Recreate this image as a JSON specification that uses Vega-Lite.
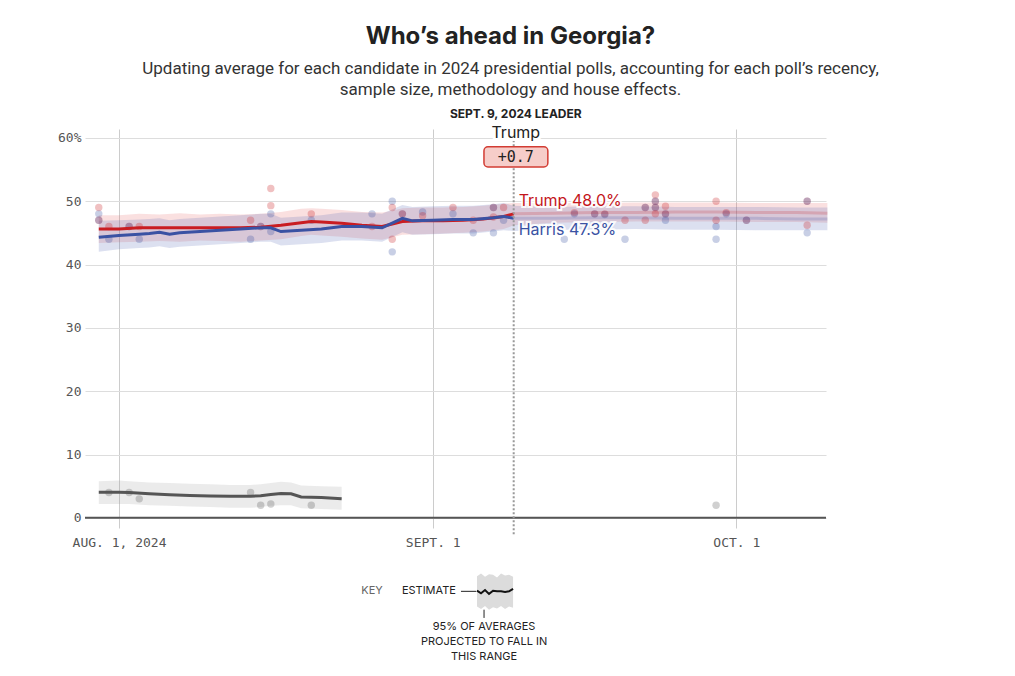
{
  "$schema": "https://vega.github.io/schema/vega-lite/v6.json",
  "autosize": {"type": "none"},
  "padding": {"left": 85, "top": 129, "right": 189, "bottom": 148},
  "width": 741,
  "height": 399,
  "background": "white",
  "config": {"view": {"stroke": null}, "font": "Inter"},
  "title": {
    "text": "Who’s ahead in Georgia?",
    "subtitle": ["Updating average for each candidate in 2024 presidential polls, accounting for each poll’s recency,", "sample size, methodology and house effects."],
    "anchor": "middle", "frame": "group", "dx": 55, "offset": 10,
    "font": "Inter", "fontSize": 24, "fontWeight": 700, "color": "#222",
    "subtitleFont": "Roboto", "subtitleFontSize": 17, "subtitleColor": "#333", "subtitleLineHeight": 21, "subtitlePadding": 12
  },
  "datasets": {
    "avg": [
      {"date": "2024-07-30T00:00:00", "cand": "Trump", "phase": "avg", "est": 45.6, "lo": 43.4, "hi": 47.8},
      {"date": "2024-08-01T00:00:00", "cand": "Trump", "phase": "avg", "est": 45.6, "lo": 43.5, "hi": 47.8},
      {"date": "2024-08-03T00:00:00", "cand": "Trump", "phase": "avg", "est": 45.8, "lo": 43.6, "hi": 48.0},
      {"date": "2024-08-05T00:00:00", "cand": "Trump", "phase": "avg", "est": 45.8, "lo": 43.7, "hi": 47.9},
      {"date": "2024-08-07T00:00:00", "cand": "Trump", "phase": "avg", "est": 45.8, "lo": 43.6, "hi": 48.1},
      {"date": "2024-08-09T00:00:00", "cand": "Trump", "phase": "avg", "est": 45.8, "lo": 43.8, "hi": 47.9},
      {"date": "2024-08-11T00:00:00", "cand": "Trump", "phase": "avg", "est": 45.8, "lo": 43.7, "hi": 48.0},
      {"date": "2024-08-13T00:00:00", "cand": "Trump", "phase": "avg", "est": 45.8, "lo": 43.6, "hi": 47.9},
      {"date": "2024-08-15T00:00:00", "cand": "Trump", "phase": "avg", "est": 45.9, "lo": 43.8, "hi": 48.0},
      {"date": "2024-08-17T00:00:00", "cand": "Trump", "phase": "avg", "est": 46.2, "lo": 44.0, "hi": 48.3},
      {"date": "2024-08-19T00:00:00", "cand": "Trump", "phase": "avg", "est": 46.6, "lo": 44.5, "hi": 48.8},
      {"date": "2024-08-20T00:00:00", "cand": "Trump", "phase": "avg", "est": 46.8, "lo": 44.7, "hi": 48.9},
      {"date": "2024-08-21T00:00:00", "cand": "Trump", "phase": "avg", "est": 46.7, "lo": 44.6, "hi": 48.8},
      {"date": "2024-08-23T00:00:00", "cand": "Trump", "phase": "avg", "est": 46.5, "lo": 44.4, "hi": 48.6},
      {"date": "2024-08-25T00:00:00", "cand": "Trump", "phase": "avg", "est": 46.2, "lo": 44.1, "hi": 48.3},
      {"date": "2024-08-27T00:00:00", "cand": "Trump", "phase": "avg", "est": 46.0, "lo": 43.9, "hi": 48.2},
      {"date": "2024-08-28T00:00:00", "cand": "Trump", "phase": "avg", "est": 46.4, "lo": 44.3, "hi": 48.5},
      {"date": "2024-08-29T00:00:00", "cand": "Trump", "phase": "avg", "est": 46.8, "lo": 44.7, "hi": 48.9},
      {"date": "2024-08-31T00:00:00", "cand": "Trump", "phase": "avg", "est": 46.9, "lo": 44.8, "hi": 49.0},
      {"date": "2024-09-02T00:00:00", "cand": "Trump", "phase": "avg", "est": 46.9, "lo": 44.9, "hi": 49.0},
      {"date": "2024-09-04T00:00:00", "cand": "Trump", "phase": "avg", "est": 47.0, "lo": 45.0, "hi": 49.1},
      {"date": "2024-09-06T00:00:00", "cand": "Trump", "phase": "avg", "est": 47.2, "lo": 45.2, "hi": 49.3},
      {"date": "2024-09-08T00:00:00", "cand": "Trump", "phase": "avg", "est": 47.6, "lo": 45.6, "hi": 49.6},
      {"date": "2024-09-09T00:00:00", "cand": "Trump", "phase": "avg", "est": 48.0, "lo": 46.2, "hi": 49.7},
      {"date": "2024-09-09T00:00:00", "cand": "Trump", "phase": "proj", "est": 48.0, "lo": 46.2, "hi": 49.7},
      {"date": "2024-09-13T00:00:00", "cand": "Trump", "phase": "proj", "est": 48.1, "lo": 46.6, "hi": 49.7},
      {"date": "2024-09-17T00:00:00", "cand": "Trump", "phase": "proj", "est": 48.2, "lo": 46.7, "hi": 49.7},
      {"date": "2024-09-21T00:00:00", "cand": "Trump", "phase": "proj", "est": 48.2, "lo": 46.8, "hi": 49.8},
      {"date": "2024-09-25T00:00:00", "cand": "Trump", "phase": "proj", "est": 48.3, "lo": 46.8, "hi": 49.8},
      {"date": "2024-09-29T00:00:00", "cand": "Trump", "phase": "proj", "est": 48.3, "lo": 46.8, "hi": 49.8},
      {"date": "2024-10-03T00:00:00", "cand": "Trump", "phase": "proj", "est": 48.2, "lo": 46.7, "hi": 49.7},
      {"date": "2024-10-07T00:00:00", "cand": "Trump", "phase": "proj", "est": 48.2, "lo": 46.7, "hi": 49.7},
      {"date": "2024-10-10T00:00:00", "cand": "Trump", "phase": "proj", "est": 48.1, "lo": 46.6, "hi": 49.7},
      {"date": "2024-07-30T00:00:00", "cand": "Harris", "phase": "avg", "est": 44.3, "lo": 42.0, "hi": 46.9},
      {"date": "2024-08-01T00:00:00", "cand": "Harris", "phase": "avg", "est": 44.6, "lo": 42.4, "hi": 47.0},
      {"date": "2024-08-03T00:00:00", "cand": "Harris", "phase": "avg", "est": 44.8, "lo": 42.6, "hi": 47.1},
      {"date": "2024-08-04T00:00:00", "cand": "Harris", "phase": "avg", "est": 44.9, "lo": 42.7, "hi": 47.2},
      {"date": "2024-08-05T00:00:00", "cand": "Harris", "phase": "avg", "est": 45.1, "lo": 42.9, "hi": 47.3},
      {"date": "2024-08-06T00:00:00", "cand": "Harris", "phase": "avg", "est": 44.8, "lo": 42.6, "hi": 47.0},
      {"date": "2024-08-07T00:00:00", "cand": "Harris", "phase": "avg", "est": 45.0, "lo": 42.8, "hi": 47.2},
      {"date": "2024-08-09T00:00:00", "cand": "Harris", "phase": "avg", "est": 45.2, "lo": 43.0, "hi": 47.4},
      {"date": "2024-08-11T00:00:00", "cand": "Harris", "phase": "avg", "est": 45.4, "lo": 43.2, "hi": 47.6},
      {"date": "2024-08-13T00:00:00", "cand": "Harris", "phase": "avg", "est": 45.6, "lo": 43.4, "hi": 47.8},
      {"date": "2024-08-15T00:00:00", "cand": "Harris", "phase": "avg", "est": 45.8, "lo": 43.6, "hi": 48.0},
      {"date": "2024-08-16T00:00:00", "cand": "Harris", "phase": "avg", "est": 45.8, "lo": 43.6, "hi": 48.0},
      {"date": "2024-08-17T00:00:00", "cand": "Harris", "phase": "avg", "est": 45.2, "lo": 43.0, "hi": 47.4},
      {"date": "2024-08-19T00:00:00", "cand": "Harris", "phase": "avg", "est": 45.4, "lo": 43.2, "hi": 47.6},
      {"date": "2024-08-21T00:00:00", "cand": "Harris", "phase": "avg", "est": 45.6, "lo": 43.4, "hi": 47.8},
      {"date": "2024-08-23T00:00:00", "cand": "Harris", "phase": "avg", "est": 46.0, "lo": 43.8, "hi": 48.2},
      {"date": "2024-08-25T00:00:00", "cand": "Harris", "phase": "avg", "est": 46.0, "lo": 43.8, "hi": 48.2},
      {"date": "2024-08-27T00:00:00", "cand": "Harris", "phase": "avg", "est": 45.8, "lo": 43.6, "hi": 48.0},
      {"date": "2024-08-29T00:00:00", "cand": "Harris", "phase": "avg", "est": 47.3, "lo": 45.1, "hi": 49.4},
      {"date": "2024-08-30T00:00:00", "cand": "Harris", "phase": "avg", "est": 46.9, "lo": 44.7, "hi": 49.1},
      {"date": "2024-09-01T00:00:00", "cand": "Harris", "phase": "avg", "est": 47.0, "lo": 44.8, "hi": 49.2},
      {"date": "2024-09-03T00:00:00", "cand": "Harris", "phase": "avg", "est": 47.1, "lo": 44.9, "hi": 49.3},
      {"date": "2024-09-05T00:00:00", "cand": "Harris", "phase": "avg", "est": 47.1, "lo": 44.9, "hi": 49.3},
      {"date": "2024-09-07T00:00:00", "cand": "Harris", "phase": "avg", "est": 47.4, "lo": 45.2, "hi": 49.5},
      {"date": "2024-09-08T00:00:00", "cand": "Harris", "phase": "avg", "est": 47.6, "lo": 45.4, "hi": 49.7},
      {"date": "2024-09-09T00:00:00", "cand": "Harris", "phase": "avg", "est": 47.3, "lo": 45.3, "hi": 49.3},
      {"date": "2024-09-09T00:00:00", "cand": "Harris", "phase": "proj", "est": 47.3, "lo": 45.3, "hi": 49.3},
      {"date": "2024-09-13T00:00:00", "cand": "Harris", "phase": "proj", "est": 47.3, "lo": 45.5, "hi": 49.1},
      {"date": "2024-09-17T00:00:00", "cand": "Harris", "phase": "proj", "est": 47.4, "lo": 45.5, "hi": 49.2},
      {"date": "2024-09-21T00:00:00", "cand": "Harris", "phase": "proj", "est": 47.4, "lo": 45.6, "hi": 49.2},
      {"date": "2024-09-25T00:00:00", "cand": "Harris", "phase": "proj", "est": 47.3, "lo": 45.5, "hi": 49.1},
      {"date": "2024-09-29T00:00:00", "cand": "Harris", "phase": "proj", "est": 47.3, "lo": 45.5, "hi": 49.1},
      {"date": "2024-10-03T00:00:00", "cand": "Harris", "phase": "proj", "est": 47.3, "lo": 45.4, "hi": 49.1},
      {"date": "2024-10-07T00:00:00", "cand": "Harris", "phase": "proj", "est": 47.2, "lo": 45.4, "hi": 49.0},
      {"date": "2024-10-10T00:00:00", "cand": "Harris", "phase": "proj", "est": 47.2, "lo": 45.4, "hi": 49.0},
      {"date": "2024-07-30T00:00:00", "cand": "Other", "phase": "avg", "est": 4.05, "lo": 2.2, "hi": 5.8},
      {"date": "2024-08-01T00:00:00", "cand": "Other", "phase": "avg", "est": 4.05, "lo": 2.2, "hi": 5.9},
      {"date": "2024-08-02T00:00:00", "cand": "Other", "phase": "avg", "est": 4.0, "lo": 2.2, "hi": 5.8},
      {"date": "2024-08-04T00:00:00", "cand": "Other", "phase": "avg", "est": 3.8, "lo": 2.0, "hi": 5.6},
      {"date": "2024-08-06T00:00:00", "cand": "Other", "phase": "avg", "est": 3.65, "lo": 1.9, "hi": 5.5},
      {"date": "2024-08-08T00:00:00", "cand": "Other", "phase": "avg", "est": 3.55, "lo": 1.8, "hi": 5.4},
      {"date": "2024-08-10T00:00:00", "cand": "Other", "phase": "avg", "est": 3.45, "lo": 1.7, "hi": 5.3},
      {"date": "2024-08-12T00:00:00", "cand": "Other", "phase": "avg", "est": 3.4, "lo": 1.6, "hi": 5.2},
      {"date": "2024-08-14T00:00:00", "cand": "Other", "phase": "avg", "est": 3.4, "lo": 1.6, "hi": 5.2},
      {"date": "2024-08-15T00:00:00", "cand": "Other", "phase": "avg", "est": 3.5, "lo": 1.7, "hi": 5.3},
      {"date": "2024-08-16T00:00:00", "cand": "Other", "phase": "avg", "est": 3.7, "lo": 1.9, "hi": 5.5},
      {"date": "2024-08-17T00:00:00", "cand": "Other", "phase": "avg", "est": 3.85, "lo": 2.0, "hi": 5.7},
      {"date": "2024-08-18T00:00:00", "cand": "Other", "phase": "avg", "est": 3.8, "lo": 2.0, "hi": 5.6},
      {"date": "2024-08-19T00:00:00", "cand": "Other", "phase": "avg", "est": 3.3, "lo": 1.5, "hi": 5.1},
      {"date": "2024-08-21T00:00:00", "cand": "Other", "phase": "avg", "est": 3.2, "lo": 1.4, "hi": 5.0},
      {"date": "2024-08-23T00:00:00", "cand": "Other", "phase": "avg", "est": 3.0, "lo": 1.3, "hi": 4.9}
    ],
    "polls": [
      {"date": "2024-07-30T00:00:00", "cand": "Trump", "pct": 49},
      {"date": "2024-07-30T00:00:00", "cand": "Harris", "pct": 48},
      {"date": "2024-07-30T00:00:00", "cand": "Trump", "pct": 47},
      {"date": "2024-07-30T00:00:00", "cand": "Harris", "pct": 47},
      {"date": "2024-07-31T00:00:00", "cand": "Trump", "pct": 46},
      {"date": "2024-07-31T00:00:00", "cand": "Harris", "pct": 44},
      {"date": "2024-07-31T00:00:00", "cand": "Other", "pct": 4},
      {"date": "2024-08-02T00:00:00", "cand": "Trump", "pct": 46},
      {"date": "2024-08-02T00:00:00", "cand": "Harris", "pct": 46},
      {"date": "2024-08-02T00:00:00", "cand": "Other", "pct": 4},
      {"date": "2024-08-03T00:00:00", "cand": "Trump", "pct": 46},
      {"date": "2024-08-03T00:00:00", "cand": "Harris", "pct": 44},
      {"date": "2024-08-03T00:00:00", "cand": "Other", "pct": 3},
      {"date": "2024-08-14T00:00:00", "cand": "Trump", "pct": 47},
      {"date": "2024-08-14T00:00:00", "cand": "Harris", "pct": 44},
      {"date": "2024-08-14T00:00:00", "cand": "Other", "pct": 4},
      {"date": "2024-08-15T00:00:00", "cand": "Trump", "pct": 46},
      {"date": "2024-08-15T00:00:00", "cand": "Harris", "pct": 46},
      {"date": "2024-08-15T00:00:00", "cand": "Other", "pct": 2},
      {"date": "2024-08-16T00:00:00", "cand": "Trump", "pct": 52},
      {"date": "2024-08-16T00:00:00", "cand": "Harris", "pct": 48},
      {"date": "2024-08-16T00:00:00", "cand": "Trump", "pct": 49.3},
      {"date": "2024-08-16T00:00:00", "cand": "Harris", "pct": 45.2},
      {"date": "2024-08-16T00:00:00", "cand": "Other", "pct": 2.2},
      {"date": "2024-08-20T00:00:00", "cand": "Trump", "pct": 48},
      {"date": "2024-08-20T00:00:00", "cand": "Harris", "pct": 47},
      {"date": "2024-08-20T00:00:00", "cand": "Other", "pct": 2},
      {"date": "2024-08-26T00:00:00", "cand": "Harris", "pct": 48},
      {"date": "2024-08-26T00:00:00", "cand": "Trump", "pct": 46},
      {"date": "2024-08-28T00:00:00", "cand": "Harris", "pct": 50},
      {"date": "2024-08-28T00:00:00", "cand": "Trump", "pct": 49},
      {"date": "2024-08-28T00:00:00", "cand": "Trump", "pct": 44},
      {"date": "2024-08-28T00:00:00", "cand": "Harris", "pct": 42},
      {"date": "2024-08-29T00:00:00", "cand": "Harris", "pct": 48},
      {"date": "2024-08-29T00:00:00", "cand": "Trump", "pct": 48},
      {"date": "2024-08-31T00:00:00", "cand": "Harris", "pct": 48.3},
      {"date": "2024-08-31T00:00:00", "cand": "Trump", "pct": 47.7},
      {"date": "2024-09-03T00:00:00", "cand": "Trump", "pct": 49},
      {"date": "2024-09-03T00:00:00", "cand": "Harris", "pct": 48},
      {"date": "2024-09-05T00:00:00", "cand": "Trump", "pct": 47},
      {"date": "2024-09-05T00:00:00", "cand": "Harris", "pct": 45},
      {"date": "2024-09-07T00:00:00", "cand": "Trump", "pct": 49},
      {"date": "2024-09-07T00:00:00", "cand": "Harris", "pct": 49},
      {"date": "2024-09-07T00:00:00", "cand": "Trump", "pct": 47.5},
      {"date": "2024-09-07T00:00:00", "cand": "Harris", "pct": 45},
      {"date": "2024-09-08T00:00:00", "cand": "Trump", "pct": 49},
      {"date": "2024-09-08T00:00:00", "cand": "Harris", "pct": 47},
      {"date": "2024-09-14T00:00:00", "cand": "Harris", "pct": 44},
      {"date": "2024-09-15T00:00:00", "cand": "Trump", "pct": 48.2},
      {"date": "2024-09-15T00:00:00", "cand": "Harris", "pct": 48},
      {"date": "2024-09-17T00:00:00", "cand": "Trump", "pct": 48},
      {"date": "2024-09-17T00:00:00", "cand": "Harris", "pct": 48},
      {"date": "2024-09-18T00:00:00", "cand": "Trump", "pct": 48},
      {"date": "2024-09-18T00:00:00", "cand": "Harris", "pct": 47.9},
      {"date": "2024-09-20T00:00:00", "cand": "Trump", "pct": 47},
      {"date": "2024-09-20T00:00:00", "cand": "Harris", "pct": 44},
      {"date": "2024-09-22T00:00:00", "cand": "Trump", "pct": 49},
      {"date": "2024-09-22T00:00:00", "cand": "Harris", "pct": 49},
      {"date": "2024-09-22T00:00:00", "cand": "Trump", "pct": 47},
      {"date": "2024-09-23T00:00:00", "cand": "Trump", "pct": 51},
      {"date": "2024-09-23T00:00:00", "cand": "Trump", "pct": 50},
      {"date": "2024-09-23T00:00:00", "cand": "Harris", "pct": 50},
      {"date": "2024-09-23T00:00:00", "cand": "Trump", "pct": 49},
      {"date": "2024-09-23T00:00:00", "cand": "Harris", "pct": 49},
      {"date": "2024-09-23T00:00:00", "cand": "Trump", "pct": 48},
      {"date": "2024-09-24T00:00:00", "cand": "Trump", "pct": 49.2},
      {"date": "2024-09-24T00:00:00", "cand": "Trump", "pct": 48},
      {"date": "2024-09-24T00:00:00", "cand": "Harris", "pct": 48},
      {"date": "2024-09-24T00:00:00", "cand": "Harris", "pct": 47},
      {"date": "2024-09-29T00:00:00", "cand": "Trump", "pct": 50},
      {"date": "2024-09-29T00:00:00", "cand": "Harris", "pct": 46},
      {"date": "2024-09-29T00:00:00", "cand": "Trump", "pct": 47},
      {"date": "2024-09-29T00:00:00", "cand": "Harris", "pct": 44},
      {"date": "2024-09-29T00:00:00", "cand": "Other", "pct": 2},
      {"date": "2024-09-30T00:00:00", "cand": "Trump", "pct": 48.2},
      {"date": "2024-09-30T00:00:00", "cand": "Harris", "pct": 48},
      {"date": "2024-10-02T00:00:00", "cand": "Trump", "pct": 47},
      {"date": "2024-10-02T00:00:00", "cand": "Harris", "pct": 47},
      {"date": "2024-10-08T00:00:00", "cand": "Trump", "pct": 50},
      {"date": "2024-10-08T00:00:00", "cand": "Harris", "pct": 50},
      {"date": "2024-10-08T00:00:00", "cand": "Trump", "pct": 46.2},
      {"date": "2024-10-08T00:00:00", "cand": "Harris", "pct": 45}
    ],
    "key": [
      {"date": "2024-09-05T09:00:00", "est": -11.5, "lo": -14.0, "hi": -9.2},
      {"date": "2024-09-05T18:30:00", "est": -11.9, "lo": -14.4, "hi": -8.8},
      {"date": "2024-09-06T04:00:00", "est": -11.4, "lo": -13.9, "hi": -9.3},
      {"date": "2024-09-06T13:30:00", "est": -12.0, "lo": -14.5, "hi": -8.9},
      {"date": "2024-09-06T23:00:00", "est": -11.5, "lo": -14.1, "hi": -9.0},
      {"date": "2024-09-07T08:30:00", "est": -11.6, "lo": -14.3, "hi": -9.4},
      {"date": "2024-09-07T18:00:00", "est": -11.6, "lo": -13.9, "hi": -8.8},
      {"date": "2024-09-08T03:30:00", "est": -11.7, "lo": -14.4, "hi": -9.1},
      {"date": "2024-09-08T13:00:00", "est": -11.6, "lo": -14.0, "hi": -9.0},
      {"date": "2024-09-08T22:30:00", "est": -11.2, "lo": -14.2, "hi": -9.3}
    ]
  },
  "layer": [
    {
      "data": {"name": "avg"},
      "mark": {"type": "area", "fillOpacity": 0.2},
      "encoding": {
        "x": {
          "field": "date", "type": "temporal",
          "scale": {"domain": [{"year": 2024, "month": 7, "date": 28, "hours": 15, "minutes": 20}, {"year": 2024, "month": 10, "date": 9, "hours": 20, "minutes": 40}]},
          "axis": {
            "title": null, "values": [{"year": 2024, "month": 8, "date": 1}, {"year": 2024, "month": 9, "date": 1}, {"year": 2024, "month": 10, "date": 1}],
            "labelExpr": "month(datum.value) == 7 ? 'AUG. 1, 2024' : month(datum.value) == 8 ? 'SEPT. 1' : 'OCT. 1'",
            "grid": true, "gridColor": "#cccccc", "gridWidth": 1, "domain": false, "ticks": false,
            "labelPadding": 8, "labelFont": "DejaVu Sans Mono", "labelFontSize": 13, "labelColor": "#555"
          }
        },
        "y": {"field": "lo", "type": "quantitative", "scale": {"domain": [-1.6, 61.4], "nice": false, "zero": false},
          "axis": {"title": null, "values": [0, 10, 20, 30, 40, 50, 60], "grid": true, "gridColor": "#dddddd", "domain": false, "ticks": false,
            "labelPadding": 4, "labelFont": "DejaVu Sans Mono", "labelFontSize": 13, "labelColor": "#555",
            "labelExpr": "datum.value == 60 ? '60%' : datum.label"}},
        "y2": {"field": "hi"},
        "fill": {"field": "cand", "type": "nominal", "scale": {"domain": ["Trump", "Harris", "Other"], "range": ["#e46464", "#4f66b3", "#999999"]}, "legend": null},
        "detail": {"field": "phase"}
      }
    },
    {
      "data": {"name": "polls"},
      "mark": {"type": "circle", "size": 55, "opacity": 0.28},
      "encoding": {
        "x": {"field": "date", "type": "temporal"},
        "y": {"field": "pct", "type": "quantitative"},
        "color": {"field": "cand", "type": "nominal", "scale": {"domain": ["Trump", "Harris", "Other"], "range": ["#c91d22", "#3a52a3", "#555555"]}, "legend": null}
      }
    },
    {
      "data": {"name": "avg"},
      "transform": [{"filter": "datum.phase == 'avg'"}],
      "mark": {"type": "line", "strokeWidth": 3},
      "encoding": {
        "x": {"field": "date", "type": "temporal"},
        "y": {"field": "est", "type": "quantitative"},
        "color": {"field": "cand", "type": "nominal", "legend": null}
      }
    },
    {
      "data": {"name": "avg"},
      "transform": [{"filter": "datum.phase == 'proj'"}],
      "mark": {"type": "line", "strokeWidth": 3, "opacity": 0.2},
      "encoding": {
        "x": {"field": "date", "type": "temporal"},
        "y": {"field": "est", "type": "quantitative"},
        "color": {"field": "cand", "type": "nominal", "legend": null}
      }
    },
    {
      "data": {"values": [{}]},
      "mark": {"type": "rule", "color": "#555", "strokeWidth": 2},
      "encoding": {"y": {"datum": 0, "type": "quantitative"}}
    },
    {
      "data": {"values": [{}]},
      "mark": {"type": "rule", "color": "#999", "strokeWidth": 2, "strokeDash": [2, 2]},
      "encoding": {
        "x": {"datum": {"year": 2024, "month": 9, "date": 9}, "type": "temporal"},
        "y": {"datum": 61.5, "type": "quantitative"},
        "y2": {"datum": -2.7}
      }
    },
    {
      "data": {"values": [{}]},
      "mark": {"type": "text", "text": "SEPT. 9, 2024 LEADER", "font": "Inter", "fontSize": 12, "fontWeight": 700, "color": "#222", "baseline": "middle"},
      "encoding": {
        "x": {"datum": {"year": 2024, "month": 9, "date": 9, "hours": 5}, "type": "temporal"},
        "y": {"datum": 63.8, "type": "quantitative"}
      }
    },
    {
      "data": {"values": [{}]},
      "mark": {"type": "text", "text": "Trump", "font": "Inter", "fontSize": 16, "baseline": "middle", "stroke": "white", "strokeWidth": 6, "fill": "white"},
      "encoding": {
        "x": {"datum": {"year": 2024, "month": 9, "date": 9, "hours": 5}, "type": "temporal"},
        "y": {"datum": 60.8, "type": "quantitative"}
      }
    },
    {
      "data": {"values": [{}]},
      "mark": {"type": "text", "text": "Trump", "font": "Inter", "fontSize": 16, "baseline": "middle", "color": "#222"},
      "encoding": {
        "x": {"datum": {"year": 2024, "month": 9, "date": 9, "hours": 5}, "type": "temporal"},
        "y": {"datum": 60.8, "type": "quantitative"}
      }
    },
    {
      "data": {"values": [{}]},
      "mark": {"type": "rect", "fill": "#f6cdc9", "stroke": "#d23c33", "strokeWidth": 1.5, "cornerRadius": 4},
      "encoding": {
        "x": {"datum": {"year": 2024, "month": 9, "date": 6, "hours": 1, "minutes": 30}, "type": "temporal"},
        "x2": {"datum": {"year": 2024, "month": 9, "date": 12, "hours": 9}},
        "y": {"datum": 58.6, "type": "quantitative"},
        "y2": {"datum": 55.4}
      }
    },
    {
      "data": {"values": [{}]},
      "mark": {"type": "text", "text": "+0.7", "font": "DejaVu Sans Mono", "fontSize": 15, "baseline": "middle", "color": "#222"},
      "encoding": {
        "x": {"datum": {"year": 2024, "month": 9, "date": 9, "hours": 5}, "type": "temporal"},
        "y": {"datum": 57.0, "type": "quantitative"}
      }
    },
    {
      "data": {"values": [{}]},
      "mark": {"type": "text", "text": "Trump 48.0%", "font": "Inter", "fontSize": 16, "align": "left", "dx": 5, "baseline": "middle", "stroke": "white", "strokeWidth": 4, "strokeOpacity": 0.85, "fill": "white"},
      "encoding": {
        "x": {"datum": {"year": 2024, "month": 9, "date": 9}, "type": "temporal"},
        "y": {"datum": 50.05, "type": "quantitative"}
      }
    },
    {
      "data": {"values": [{}]},
      "mark": {"type": "text", "text": "Trump 48.0%", "font": "Inter", "fontSize": 16, "align": "left", "dx": 5, "baseline": "middle", "color": "#c4161c"},
      "encoding": {
        "x": {"datum": {"year": 2024, "month": 9, "date": 9}, "type": "temporal"},
        "y": {"datum": 50.05, "type": "quantitative"}
      }
    },
    {
      "data": {"values": [{}]},
      "mark": {"type": "text", "text": "Harris 47.3%", "font": "Inter", "fontSize": 16, "align": "left", "dx": 5, "baseline": "middle", "stroke": "white", "strokeWidth": 4, "strokeOpacity": 0.85, "fill": "white"},
      "encoding": {
        "x": {"datum": {"year": 2024, "month": 9, "date": 9}, "type": "temporal"},
        "y": {"datum": 45.5, "type": "quantitative"}
      }
    },
    {
      "data": {"values": [{}]},
      "mark": {"type": "text", "text": "Harris 47.3%", "font": "Inter", "fontSize": 16, "align": "left", "dx": 5, "baseline": "middle", "color": "#3a52a3"},
      "encoding": {
        "x": {"datum": {"year": 2024, "month": 9, "date": 9}, "type": "temporal"},
        "y": {"datum": 45.5, "type": "quantitative"}
      }
    },
    {
      "data": {"values": [{}]},
      "mark": {"type": "text", "text": "KEY", "font": "Inter", "fontSize": 11, "baseline": "middle", "color": "#666"},
      "encoding": {
        "x": {"datum": {"year": 2024, "month": 8, "date": 26}, "type": "temporal"},
        "y": {"datum": -11.5, "type": "quantitative"}
      }
    },
    {
      "data": {"values": [{}]},
      "mark": {"type": "text", "text": "ESTIMATE", "font": "Inter", "fontSize": 11, "baseline": "middle", "align": "right", "color": "#222"},
      "encoding": {
        "x": {"datum": {"year": 2024, "month": 9, "date": 3, "hours": 7}, "type": "temporal"},
        "y": {"datum": -11.6, "type": "quantitative"}
      }
    },
    {
      "data": {"values": [{}]},
      "mark": {"type": "rule", "color": "#222", "strokeWidth": 1},
      "encoding": {
        "x": {"datum": {"year": 2024, "month": 9, "date": 3, "hours": 19}, "type": "temporal"},
        "x2": {"datum": {"year": 2024, "month": 9, "date": 5, "hours": 7}},
        "y": {"datum": -11.6, "type": "quantitative"}
      }
    },
    {
      "data": {"name": "key"},
      "mark": {"type": "area", "color": "#dcdcdc"},
      "encoding": {
        "x": {"field": "date", "type": "temporal"},
        "y": {"field": "lo", "type": "quantitative"},
        "y2": {"field": "hi"}
      }
    },
    {
      "data": {"name": "key"},
      "mark": {"type": "line", "color": "#111", "strokeWidth": 2},
      "encoding": {
        "x": {"field": "date", "type": "temporal"},
        "y": {"field": "est", "type": "quantitative"}
      }
    },
    {
      "data": {"values": [{}]},
      "mark": {"type": "rule", "color": "#222", "strokeWidth": 1},
      "encoding": {
        "x": {"datum": {"year": 2024, "month": 9, "date": 6, "hours": 1, "minutes": 40}, "type": "temporal"},
        "y": {"datum": -14.5, "type": "quantitative"},
        "y2": {"datum": -15.8}
      }
    },
    {
      "data": {"values": [{}]},
      "mark": {"type": "text", "text": ["95% OF AVERAGES", "PROJECTED TO FALL IN", "THIS RANGE"], "font": "Inter", "fontSize": 11, "baseline": "top", "lineHeight": 15, "color": "#222"},
      "encoding": {
        "x": {"datum": {"year": 2024, "month": 9, "date": 6, "hours": 1, "minutes": 40}, "type": "temporal"},
        "y": {"datum": -16.3, "type": "quantitative"}
      }
    }
  ]
}
